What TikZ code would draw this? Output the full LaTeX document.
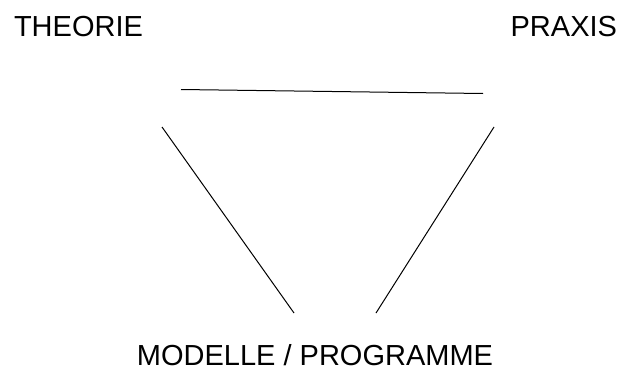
\documentclass[tikz,border=0pt]{standalone}
\usepackage{fontspec}
\setmainfont{Liberation Sans}
\usepackage{tikz}
\usetikzlibrary{positioning}
\tikzset{font=\fontsize{29}{34}\selectfont}
\tikzstyle{lbl}=[inner sep=0pt,outer sep=0pt]
\tikzset{every picture/.style={line width=1pt}}

\begin{document}
\begin{tikzpicture}
  [x=1pt,y=-1pt]
  \useasboundingbox (0,0) rectangle (618,367);
  \node [style={lbl,anchor=base west}] (theo) at (14,36) {THEORIE};
  \node [style={lbl,anchor=base east}] (prax) at (617,36) {PRAXIS};
  \node [style={lbl,anchor=base}] (mod) at (315,365) {MODELLE / PROGRAMME};
  \coordinate (tp1) at (181,89.5);
  \coordinate (tp2) at (483,93.5);
  \coordinate (tm1) at (162,127);
  \coordinate (tm2) at (294,313);
  \coordinate (pm1) at (494,127);
  \coordinate (pm2) at (376,313);
\path[draw]
(tp1) edge (tp2)
(tm1) edge (tm2)
(pm1) edge (pm2);
\end{tikzpicture}
\end{document}
